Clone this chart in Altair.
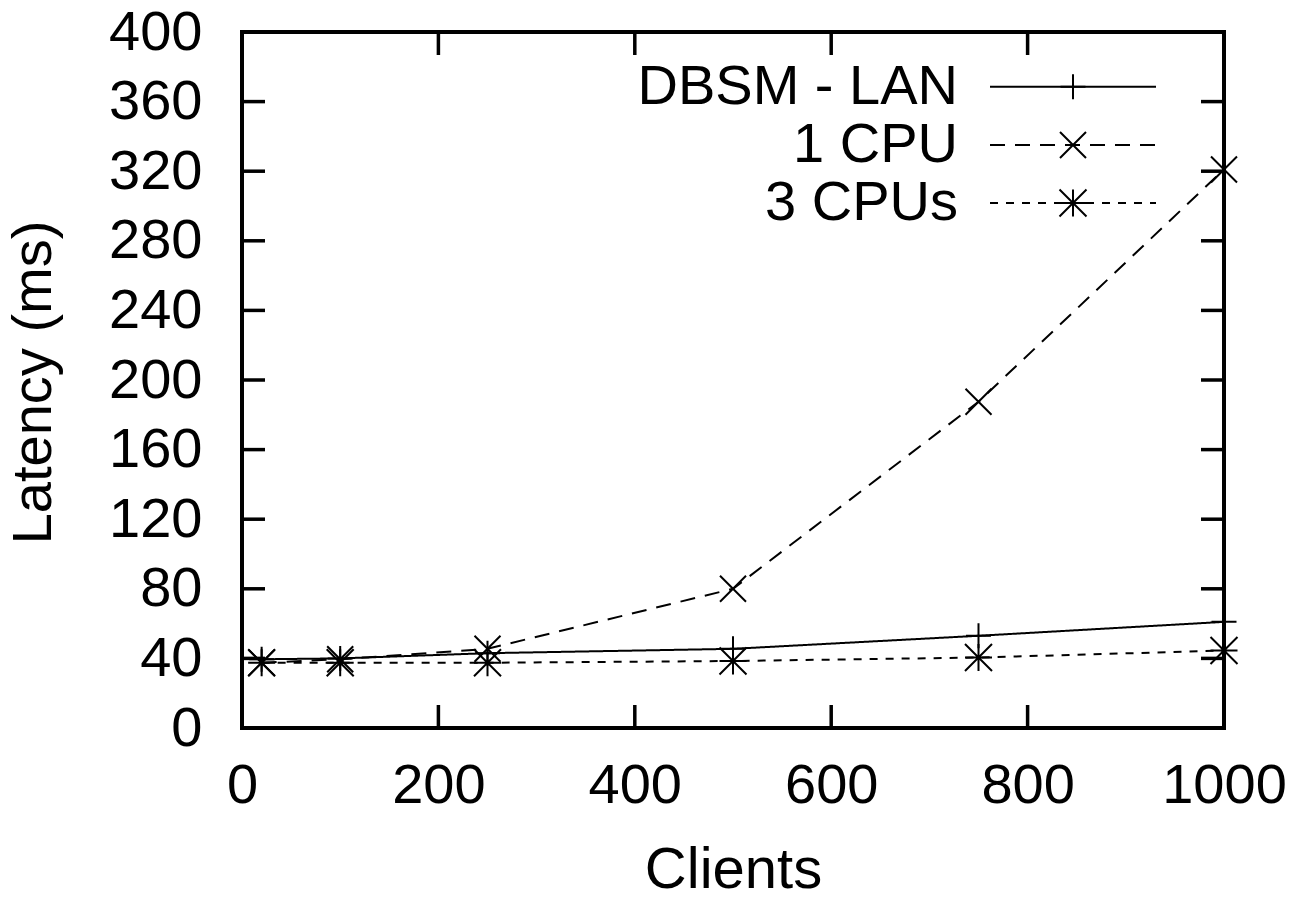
import altair as alt
import pandas as pd

clients = [20, 100, 250, 500, 750, 1000]
dbsm_lan = [39.5, 40.0, 43.0, 45.5, 53.0, 61.0]
cpu1 = [37.5, 39.5, 45.5, 80.0, 187.5, 321.0]
cpu3 = [37.5, 37.5, 37.5, 38.5, 40.5, 44.5]

series_names = ["DBSM - LAN", "1 CPU", "3 CPUs"]
series_values = [dbsm_lan, cpu1, cpu3]

x_ticks = [0, 200, 400, 600, 800, 1000]
y_ticks = [0, 40, 80, 120, 160, 200, 240, 280, 320, 360, 400]

W, H = 982, 696
FONT = "Liberation Sans"
FS_LAB = 56
FS_XTITLE = 58
FS_YTITLE = 56
FS_LEG = 56

PLUS = "M -1 0 L 1 0 M 0 -1 L 0 1"
CROSS = "M -1 -1 L 1 1 M -1 1 L 1 -1"
STAR = "M -1 0 L 1 0 M 0 -1 L 0 1 M -1 -1 L 1 1 M -1 1 L 1 -1"
styles = [
    {"dash": [1, 0], "shape": PLUS, "size": 625},
    {"dash": [15, 10], "shape": CROSS, "size": 676},
    {"dash": [8, 8], "shape": STAR, "size": 729},
]

xscale = alt.Scale(domain=[0, 1000], nice=False, zero=False)
yscale = alt.Scale(domain=[0, 400], nice=False, zero=False)

x_axis = alt.Axis(
    values=x_ticks, format="d", title="Clients", grid=False, ticks=False, tickSize=0, domain=False,
    labelFont=FONT, labelFontSize=FS_LAB, labelColor="black", labelPadding=74,
    labelBaseline="alphabetic", labelFlush=False, labelOverlap=False,
    titleFont=FONT, titleFontSize=FS_XTITLE, titleFontWeight="normal", titleColor="black",
    titleBaseline="alphabetic", titleY=159, titleX=W / 2,
)
y_axis = alt.Axis(
    values=y_ticks, format="d", title="Latency (ms)", grid=False, ticks=False, tickSize=0, domain=False,
    labelFont=FONT, labelFontSize=FS_LAB, labelColor="black", labelPadding=40,
    labelBaseline="middle", labelFlush=False, labelOverlap=False,
    titleFont=FONT, titleFontSize=FS_YTITLE, titleFontWeight="normal", titleColor="black",
    titleBaseline="alphabetic", titleAngle=270, titleX=-192, titleY=350, titleAlign="center",
)


def X(field):
    return alt.X(field, scale=xscale, axis=x_axis, title="Clients")


def Y(field):
    return alt.Y(field, scale=yscale, axis=y_axis, title="Latency (ms)")


layers = []
for i, (name, vals) in enumerate(zip(series_names, series_values)):
    df = pd.DataFrame({"clients": clients, "latency": vals})
    st = styles[i]
    line = alt.Chart(df).mark_line(color="black", strokeWidth=2, strokeDash=st["dash"]).encode(
        x=X("clients:Q"), y=Y("latency:Q")
    )
    pts = alt.Chart(df).mark_point(
        shape=st["shape"], size=st["size"], filled=False, stroke="black", strokeWidth=2, opacity=1
    ).encode(x=X("clients:Q"), y=Y("latency:Q"))
    layers += [line, pts]

# inward ticks on all four sides
xt = pd.DataFrame({"v": x_ticks})
yt = pd.DataFrame({"v": y_ticks})
TL = 23
tick_bottom = alt.Chart(xt).mark_rule(color="black", strokeWidth=3.5).encode(
    x=X("v:Q"), y=alt.value(H), y2=alt.value(H - TL))
tick_top = alt.Chart(xt).mark_rule(color="black", strokeWidth=3.5).encode(
    x=X("v:Q"), y=alt.value(0), y2=alt.value(TL))
tick_left = alt.Chart(yt).mark_rule(color="black", strokeWidth=3.5).encode(
    y=Y("v:Q"), x=alt.value(0), x2=alt.value(TL))
tick_right = alt.Chart(yt).mark_rule(color="black", strokeWidth=3.5).encode(
    y=Y("v:Q"), x=alt.value(W), x2=alt.value(W - TL))
layers += [tick_bottom, tick_top, tick_left, tick_right]

# in-plot legend (top right)
leg_rows_y = [54.7, 113, 171]
one = pd.DataFrame({"k": [0]})
for i, name in enumerate(series_names):
    st = styles[i]
    yy = leg_rows_y[i]
    layers.append(
        alt.Chart(one).mark_text(
            text=name, align="right", baseline="middle", font=FONT, fontSize=FS_LEG, color="black"
        ).encode(x=alt.value(716), y=alt.value(yy))
    )
    layers.append(
        alt.Chart(one).mark_rule(color="black", strokeWidth=2, strokeDash=st["dash"]).encode(
            x=alt.value(748), x2=alt.value(914), y=alt.value(yy))
    )
    layers.append(
        alt.Chart(one).mark_point(
            shape=st["shape"], size=st["size"], filled=False, stroke="black", strokeWidth=2, opacity=1
        ).encode(x=alt.value(831), y=alt.value(yy))
    )

chart = alt.layer(*layers).properties(
    width=W, height=H,
    autosize=alt.AutoSizeParams(type="none"),
    padding={"left": 242, "top": 32, "right": 70, "bottom": 170},
    background="white",
).configure_view(stroke="black", strokeWidth=4)

chart.save("out.html", embed_options={"renderer": "svg", "actions": False})
